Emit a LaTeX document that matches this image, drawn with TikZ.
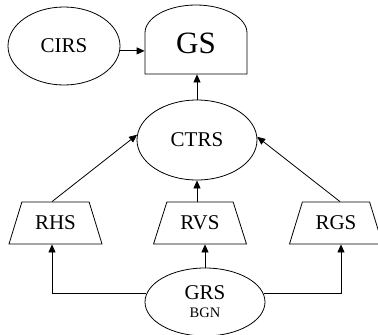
\documentclass[tikz,border=0pt]{standalone}
\usepackage{fontspec}
\setmainfont{Liberation Serif}
\usetikzlibrary{shapes.geometric,arrows.meta}
\begin{document}
\begin{tikzpicture}[x=1pt,y=-1pt,line width=0.8pt,
  arr/.style={-{Triangle[length=8pt,width=7pt]}},
  oval/.style={ellipse,draw,inner sep=0pt,font=\fontsize{21pt}{22pt}\selectfont},
  trap/.style={trapezium,draw,trapezium left angle=61,trapezium right angle=61,
    trapezium stretches=true,minimum width=93pt,minimum height=42pt,inner sep=0pt,
    font=\fontsize{21pt}{22pt}\selectfont}]
\useasboundingbox (0,0) rectangle (378,335);
% GS dome shape
\draw (145,74) -- (145,33) arc[start angle=180,end angle=0,x radius=51pt,y radius=28pt] -- (247,74) -- cycle;
\node[minimum width=102pt,minimum height=62pt,inner sep=0pt,font=\fontsize{31pt}{32pt}\selectfont] (GS) at (196,43) {GS};
\node[oval,minimum width=112pt,minimum height=78pt] (CIRS) at (64,46) {CIRS};
\node[oval,minimum width=120pt,minimum height=80pt] (CTRS) at (197,140) {CTRS};
\node[trap] (RHS) at (55.5,223) {RHS};
\node[trap] (RVS) at (200,223) {RVS};
\node[trap] (RGS) at (336,223) {RGS};
\node[ellipse,draw,inner sep=0pt,minimum width=120pt,minimum height=68pt,align=center,
  font=\fontsize{14.5pt}{19pt}\selectfont] (GRS) at (205,302)
  {{\fontsize{21pt}{19pt}\selectfont GRS}\\[-1pt]BGN};
% connectors
\draw[arr] (CIRS.-5) -- (CIRS.-5 -| GS.west);
\draw[arr] (CTRS.north) -- (CTRS.north |- GS.south);
\draw[arr] ([xshift=-3.5pt]RHS.north) -- (CTRS.175);
\draw[arr] ([xshift=4pt]RGS.north) -- (CTRS.3);
\draw[arr] (CTRS.south |- RVS.north) -- (CTRS.south);
\draw[arr] (GRS.north) -- (GRS.north |- RVS.south);
\draw[arr] (GRS.172) -| ([xshift=-3.5pt]RHS.south);
\draw[arr] (GRS.8) -| ([xshift=5pt]RGS.south);
\end{tikzpicture}
\end{document}
